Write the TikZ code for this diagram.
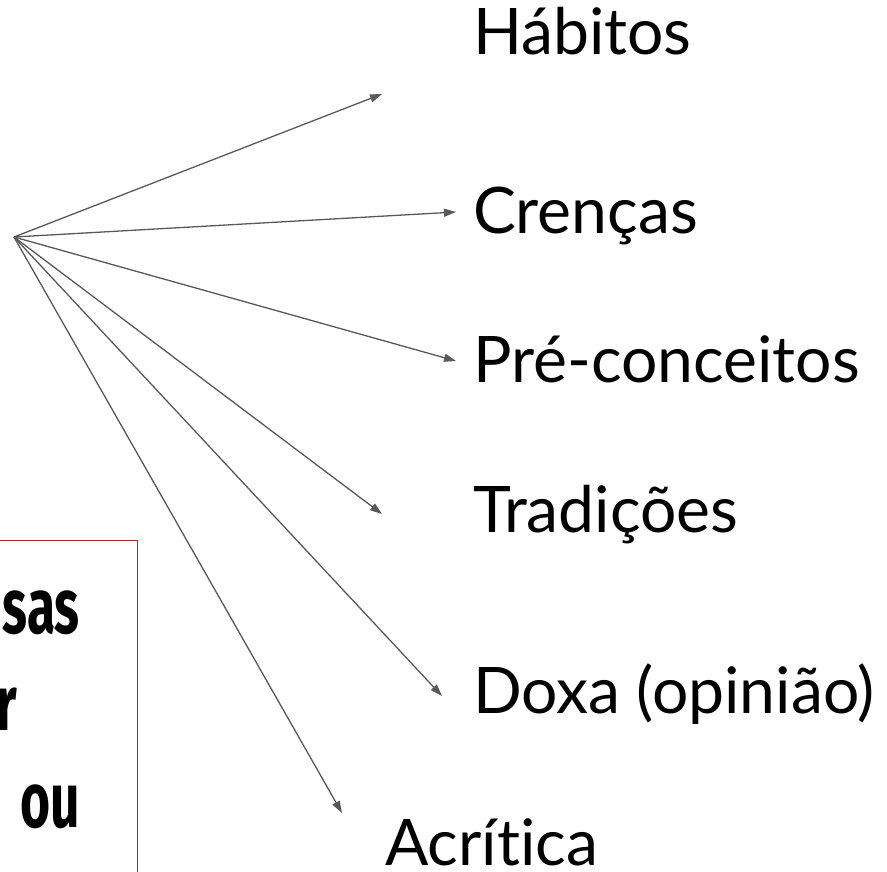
\documentclass[tikz,border=0pt]{standalone}
\usepackage{fontspec}
\setmainfont{Lato}[Ligatures=NoCommon]
\newfontfamily\condfont[FakeStretch=0.66]{Fira Sans}
\usetikzlibrary{arrows.meta}
\definecolor{arrowgray}{HTML}{595959}
\tikzset{
  conn/.style={draw=arrowgray, line width=1.3pt, -{Triangle[length=12pt,width=8pt]}},
  lbl/.style={anchor=base west, inner sep=0pt, font=\fontsize{64.2}{70}\selectfont},
  boxtxt/.style={anchor=base east, inner sep=0pt, font=\condfont\bfseries\fontsize{78}{80}\selectfont},
}
\begin{document}
\begin{tikzpicture}[x=1pt,y=-1pt]
\useasboundingbox (0,0) rectangle (887,871);
\begin{scope}
\clip (0,0) rectangle (887,871);
\node[draw=red, line width=1.3pt, minimum width=150pt, minimum height=340pt, anchor=north east, inner sep=0pt] (box) at (138,540) {};
\node[boxtxt] (t1) at (80,633) {sas};
\node[boxtxt] (t2) at (17,730) {r};
\node[boxtxt] (t3) at (80,827) {ou};
\end{scope}
\coordinate (o) at (14,237);
\coordinate (a1) at (382,94);
\coordinate (a2) at (456,212);
\coordinate (a3) at (456,361);
\coordinate (a4) at (382,514);
\coordinate (a5) at (442,696);
\coordinate (a6) at (342,813);
\foreach \i in {1,...,6} {\draw[conn] (o) -- (a\i);}
\node[lbl] (l1) at (473,54) {Hábitos};
\node[lbl] (l2) at (473,233) {Crenças};
\node[lbl] (l3) at (473,382) {Pré-conceitos};
\node[lbl] (l4) at (473,532) {Tradições};
\node[lbl] (l5) at (473,713) {Doxa (opinião)};
\node[lbl] (l6) at (385,865) {Acrítica};
\end{tikzpicture}
\end{document}
